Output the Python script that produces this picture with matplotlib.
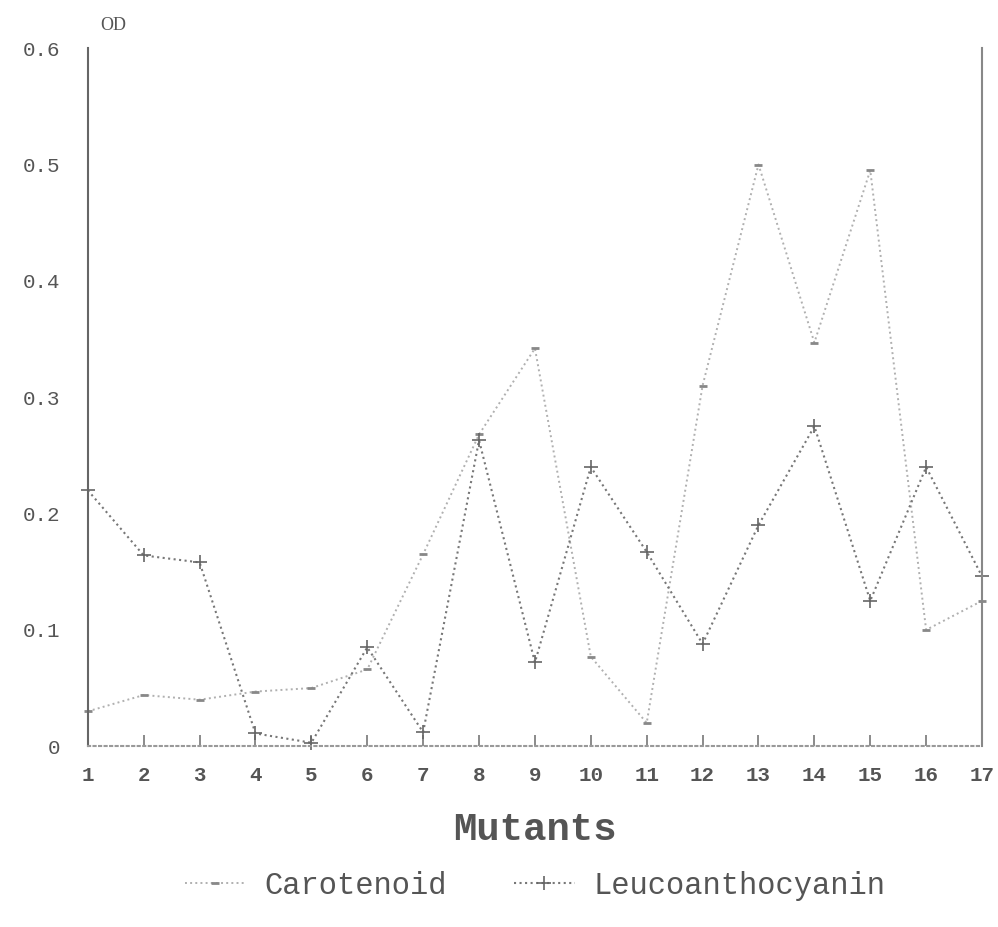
import matplotlib.pyplot as plt
import numpy as np

# mutant numbers
mutants = np.arange(1, 18)
# OD values
carotenoid = [0.030, 0.044, 0.040, 0.047, 0.050, 0.066, 0.165, 0.268, 0.342,
              0.077, 0.020, 0.310, 0.500, 0.347, 0.495, 0.100, 0.125]
leuco = [0.220, 0.164, 0.158, 0.011, 0.003, 0.085, 0.012, 0.263, 0.072,
         0.240, 0.167, 0.088, 0.190, 0.275, 0.125, 0.240, 0.146]
y_ticks = [0, 0.1, 0.2, 0.3, 0.4, 0.5, 0.6]
y_labels = ["0", "0.1", "0.2", "0.3", "0.4", "0.5", "0.6"]

txt = "#555555"
font = "Liberation Mono"

fig = plt.figure(figsize=(9.98, 9.27), dpi=100)
ax = fig.add_axes([0.088, 0.195, 0.896, 0.753])

ax.plot(mutants, carotenoid, linestyle=":", color="#b0b0b0", linewidth=1.4,
        marker="_", markersize=6, markeredgewidth=2, markeredgecolor="#888888",
        label="Carotenoid", clip_on=False)
ax.plot(mutants, leuco, linestyle=":", color="#777777", linewidth=1.5,
        marker="+", markersize=10, markeredgewidth=1.2, markeredgecolor="#666666",
        label="Leucoanthocyanin", clip_on=False)

ax.set_xlim(1, 17)
ax.set_ylim(0, 0.6)
ax.set_xticks(mutants)
ax.set_xticklabels([str(m) for m in mutants], fontsize=15, color=txt,
                   family=font, fontweight="bold")
ax.set_yticks(y_ticks)
ax.set_yticklabels(y_labels, fontsize=15, color=txt, family=font)
ax.tick_params(axis="x", direction="in", length=8, width=1.2, color="#777777", pad=14)
ax.tick_params(axis="y", length=0, pad=20)

ax.spines["top"].set_visible(False)
ax.spines["left"].set_color("#666666")
ax.spines["left"].set_linewidth(1.5)
ax.spines["right"].set_color("#888888")
ax.spines["right"].set_linewidth(1.5)
ax.spines["bottom"].set_color("#999999")
ax.spines["bottom"].set_linestyle(":")
ax.spines["bottom"].set_linewidth(1.5)

ax.text(0.014, 1.02, "OD", transform=ax.transAxes, fontsize=13, color=txt,
        family="Liberation Serif", ha="left", va="bottom")
ax.set_xlabel("Mutants", fontsize=28, color=txt, family=font,
              fontweight="bold", labelpad=20)

leg = ax.legend(loc="center", bbox_to_anchor=(0.5, -0.2), ncol=2,
                frameon=False, prop={"family": font, "size": 22},
                handlelength=2.0, handletextpad=0.6, columnspacing=2.2)
for t in leg.get_texts():
    t.set_color(txt)

fig.savefig("out.png", dpi=100)
